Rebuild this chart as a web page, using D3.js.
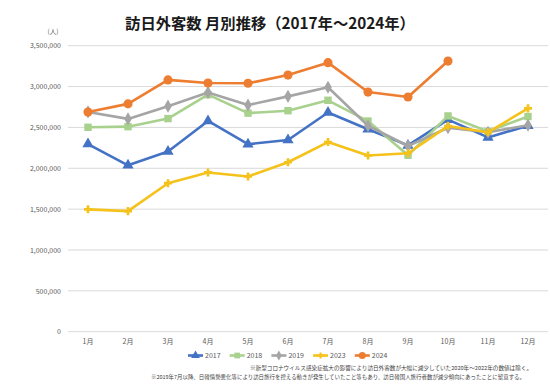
<!DOCTYPE html>
<html><head><meta charset="utf-8">
<script src="https://cdn.jsdelivr.net/npm/d3@7"></script>
<style>body{margin:0;background:#fff}svg{display:block;font-family:"Noto Sans CJK JP","Noto Sans",sans-serif}</style>
</head><body><svg id="c" width="550" height="392"></svg>
<script>
const months = ["1月","2月","3月","4月","5月","6月","7月","8月","9月","10月","11月","12月"];
const yTicks = [0,500000,1000000,1500000,2000000,2500000,3000000,3500000];
const v2017 = [2295668,2035843,2205731,2578970,2294700,2346390,2681952,2477514,2280093,2595026,2377907,2521286];
const v2018 = [2501409,2509297,2607956,2900718,2675052,2704631,2832040,2578021,2159595,2640612,2451250,2632814];
const v2019 = [2689339,2604322,2760136,2926685,2773091,2880041,2991189,2520134,2272883,2496568,2441274,2526387];
const v2023 = [1497472,1475455,1817200,1949100,1898900,2073300,2320600,2156900,2183800,2516500,2440100,2733000];
const v2024 = [2688100,2788000,3081600,3042900,3040100,3140500,3292600,2932800,2872200,3312200];
const seriesNames = ["2017","2018","2019","2023","2024"];
const title = "訪日外客数 月別推移（2017年～2024年）";
const note1 = "※新型コロナウイルス感染症拡大の影響により訪日外客数が大幅に減少していた2020年～2022年の数値は除く。";
const note2 = "※2019年7月以降、日韓情勢悪化等により訪日旅行を控える動きが発生していたこと等もあり、訪日韓国人旅行者数が減少傾向にあったことに留意する。";

const series = [
  {name:"2017", vals:v2017, color:"#4472C4", sym:d3.symbolTriangle, size:55},
  {name:"2018", vals:v2018, color:"#A9D18E", sym:d3.symbolSquare, size:55},
  {name:"2019", vals:v2019, color:"#A5A5A5", sym:d3.symbolDiamond, size:50},
  {name:"2023", vals:v2023, color:"#F5C21B", sym:d3.symbolCross, size:36},
  {name:"2024", vals:v2024, color:"#ED7D31", sym:d3.symbolCircle, size:66}
];

const svg = d3.select("#c");
const x = d3.scaleBand().domain(months).range([68,548]);
const y = d3.scaleLinear().domain([0,3500000]).range([331.7,45.7]);

svg.append("text").attr("x",270).attr("y",29).attr("text-anchor","middle")
  .attr("font-size",15.3).attr("font-weight","bold").attr("fill","#1a1a1a").text(title);

svg.append("text").attr("x",53).attr("y",34).attr("text-anchor","middle")
  .attr("font-size",6.5).attr("fill","#595959").text("(人)");

// grid
svg.append("g").selectAll("line").data(yTicks).join("line")
  .attr("x1",68).attr("x2",548).attr("y1",d=>y(d)).attr("y2",d=>y(d))
  .attr("stroke","#d9d9d9").attr("stroke-width",1);

const yAxis = svg.append("g").attr("transform","translate(68,0)")
  .call(d3.axisLeft(y).tickValues(yTicks).tickFormat(d3.format(",")).tickSize(0).tickPadding(7));
yAxis.select(".domain").remove();
yAxis.selectAll("text").attr("font-size",7).attr("fill","#595959").attr("font-family","'Noto Sans CJK JP',sans-serif");

const xAxis = svg.append("g").attr("transform","translate(0,331.7)")
  .call(d3.axisBottom(x).tickSize(0).tickPadding(7));
xAxis.select(".domain").remove();
xAxis.selectAll("text").attr("font-size",7).attr("fill","#595959").attr("font-family","'Noto Sans CJK JP',sans-serif");

const line = d3.line().x((d,i)=>x(months[i])+x.bandwidth()/2).y(d=>y(d));
series.forEach(s=>{
  const g = svg.append("g");
  g.append("path").attr("d",line(s.vals)).attr("fill","none").attr("stroke",s.color).attr("stroke-width",2.6).attr("stroke-linejoin","round");
  g.selectAll("path.m").data(s.vals).join("path").attr("class","m")
    .attr("transform",(d,i)=>`translate(${x(months[i])+x.bandwidth()/2},${y(d)})`)
    .attr("d",d3.symbol().type(s.sym).size(s.size)).attr("fill",s.color);
});

// legend
const lg = svg.append("g").attr("transform","translate(188,355.5)");
series.forEach((s,i)=>{
  const g = lg.append("g").attr("transform",`translate(${i*41.7},0)`);
  g.append("line").attr("x1",0).attr("x2",15).attr("stroke",s.color).attr("stroke-width",2.6);
  g.append("path").attr("transform","translate(7.5,0)").attr("d",d3.symbol().type(s.sym).size(s.size*0.6)).attr("fill",s.color);
  g.append("text").attr("x",17).attr("y",2.5).attr("font-size",7).attr("fill","#595959").text(s.name);
});

svg.append("text").attr("x",532).attr("y",370).attr("text-anchor","end").attr("font-size",5.3)
  .attr("fill","#404040").attr("textLength",282).attr("lengthAdjust","spacingAndGlyphs").text(note1);
svg.append("text").attr("x",151).attr("y",379).attr("font-size",5.3)
  .attr("fill","#404040").attr("textLength",374).attr("lengthAdjust","spacingAndGlyphs").text(note2);
</script></body></html>
